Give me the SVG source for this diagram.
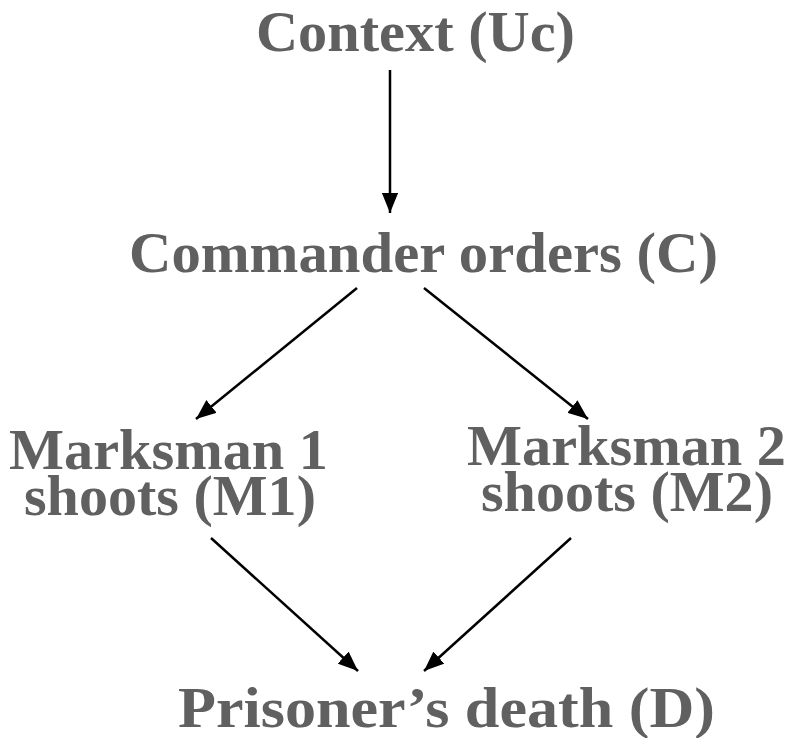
<svg xmlns="http://www.w3.org/2000/svg" width="788" height="738" viewBox="0 0 788 738">
  <style>
    .lbl { font-family: "Liberation Serif", "Times New Roman", serif; font-weight: bold; font-size: 57px; fill: #606060; }
    .edge { stroke: #000; stroke-width: 2.5; fill: none; marker-end: url(#arrow); }
  </style>
  <defs>
    <marker id="arrow" viewBox="0 0 10 10" refX="10" refY="5" markerWidth="8" markerHeight="6.5" markerUnits="strokeWidth" orient="auto" preserveAspectRatio="none">
      <path d="M0,0 L10,5 L0,10 z" fill="#000"/>
    </marker>
  </defs>
  <rect width="788" height="738" fill="#fff"/>
  <g id="connectors">
    <line class="edge" x1="390" y1="70" x2="390" y2="213"/>
    <line class="edge" x1="357" y1="288" x2="196" y2="419"/>
    <line class="edge" x1="424" y1="288" x2="588" y2="419"/>
    <line class="edge" x1="211" y1="538" x2="358" y2="671"/>
    <line class="edge" x1="571" y1="538" x2="424" y2="671"/>
  </g>
  <g id="node-uc"><text class="lbl" x="256" y="51" font-size="62" textLength="319" lengthAdjust="spacingAndGlyphs">Context (Uc)</text></g>
  <g id="node-c"><text class="lbl" x="129" y="272" font-size="70" textLength="589" lengthAdjust="spacingAndGlyphs">Commander orders (C)</text></g>
  <g id="node-m1">
    <text class="lbl" x="9" y="469" textLength="319" lengthAdjust="spacingAndGlyphs">Marksman 1</text>
    <text class="lbl" x="24" y="515" textLength="292" lengthAdjust="spacingAndGlyphs">shoots (M1)</text>
  </g>
  <g id="node-m2">
    <text class="lbl" x="467" y="465" textLength="319" lengthAdjust="spacingAndGlyphs">Marksman 2</text>
    <text class="lbl" x="481" y="511" textLength="292" lengthAdjust="spacingAndGlyphs">shoots (M2)</text>
  </g>
  <g id="node-d"><text class="lbl" x="178" y="727" font-size="58" textLength="537" lengthAdjust="spacingAndGlyphs">Prisoner’s death (D)</text></g>
</svg>
